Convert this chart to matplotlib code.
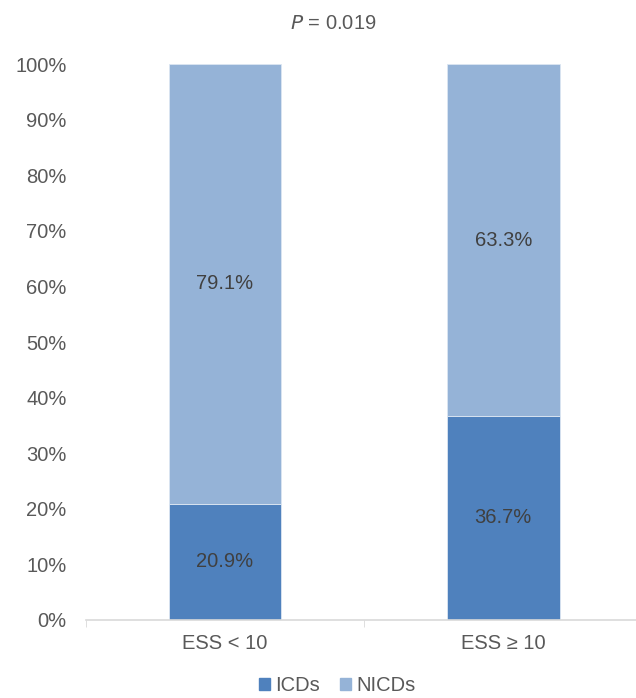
import numpy as np
import matplotlib
matplotlib.use("Agg")
import matplotlib.pyplot as plt
from matplotlib.patches import Patch

# -------------------------
# DATA
# -------------------------
categories = ["ESS < 10", "ESS \u2265 10"]
icds = [20.9, 36.7]
nicds = [79.1, 63.3]
y_ticks = [0, 10, 20, 30, 40, 50, 60, 70, 80, 90, 100]

plt.rcParams["font.family"] = ["Liberation Sans", "DejaVu Sans"]
TXT = "#595959"
C_ICD = "#4F81BD"
C_NICD = "#95B3D7"
FS = 14.5

fig = plt.figure(figsize=(6.36, 6.98), dpi=100)
ax = fig.add_axes([0.135, 0.112, 0.875, 0.796])

x = np.arange(len(categories))
w = 0.405
ax.bar(x, icds, w, color=C_ICD, edgecolor="#DCE6F2", linewidth=0.6, label="ICDs")
ax.bar(x, nicds, w, bottom=icds, color=C_NICD, edgecolor="#DCE6F2", linewidth=0.6, label="NICDs")

for i in range(len(categories)):
    ax.text(x[i], icds[i] / 2, f"{icds[i]:.1f}%", ha="center", va="center",
            fontsize=FS, color="#404040")
    ax.text(x[i], icds[i] + nicds[i] / 2, f"{nicds[i]:.1f}%", ha="center", va="center",
            fontsize=FS, color="#404040")

ax.set_xlim(-0.5, 1.5)
ax.set_ylim(0, 100)
ax.set_yticks(y_ticks)
ax.set_yticklabels([f"{t}%" for t in y_ticks])
ax.set_xticks(x)
ax.set_xticklabels(categories)
ax.set_xticks([-0.5, 0.5, 1.5], minor=True)
ax.tick_params(axis="y", length=0, pad=14, labelsize=FS, labelcolor=TXT)
ax.tick_params(axis="x", which="major", length=0, pad=10, labelsize=FS, labelcolor=TXT)
ax.tick_params(axis="x", which="minor", length=5, direction="out", color="#D9D9D9")
for s in ["top", "right", "left"]:
    ax.spines[s].set_visible(False)
ax.spines["bottom"].set_color("#D9D9D9")
ax.spines["bottom"].set_linewidth(1.2)

fig.text(0.524, 0.966, "$\\it{P}$ = 0.019", ha="center", va="center", fontsize=FS,
         color=TXT)

handles = [Patch(color=C_ICD, label="ICDs"), Patch(color=C_NICD, label="NICDs")]
fig.legend(handles=handles, loc="center", bbox_to_anchor=(0.53, 0.018), ncol=2,
           frameon=False, fontsize=FS, labelcolor=TXT, handlelength=0.55,
           handleheight=0.55, handletextpad=0.25, columnspacing=1.0,
           borderpad=0.1)

fig.savefig("out.png", dpi=100)
